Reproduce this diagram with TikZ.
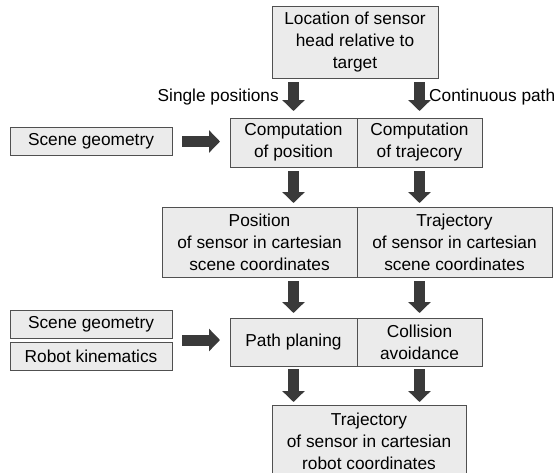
\documentclass[tikz,border=0pt]{standalone}
\usepackage{fontspec}
\setmainfont{Liberation Sans}
\usetikzlibrary{arrows.meta,calc}
\definecolor{boxfill}{HTML}{EBEBEB}
\definecolor{boxline}{HTML}{505050}
\definecolor{arrowfill}{HTML}{3A3A3A}
\begin{document}
\begin{tikzpicture}[x=1pt,y=-1pt,
  box/.style={draw=boxline, fill=boxfill, line width=0.9pt, inner sep=0pt, outer sep=0pt,
    align=center, font=\fontsize{17.3}{22}\selectfont, anchor=north west},
  lbl/.style={inner sep=0pt, font=\fontsize{17.3}{22}\selectfont},
  bigarrow/.style={draw=arrowfill, line width=11pt, -{Triangle[width=22pt,length=11pt]}}]
\useasboundingbox (0,0) rectangle (556,472);
% boxes
\node[box, minimum width=166pt, minimum height=72pt] (top) at (272,6.5) {Location of sensor\\head relative to\\target};
\node[box, minimum width=127pt, minimum height=49pt] (cpl) at (230,118) {Computation\\of position};
\node[box, minimum width=125pt, minimum height=49pt] (cpr) at (357,118) {Computation\\of trajecory};
\node[box, minimum width=195pt, minimum height=70pt] (pol) at (162,207) {Position\\of sensor in cartesian\\scene coordinates};
\node[box, minimum width=195pt, minimum height=70pt] (por) at (357,207) {Trajectory\\of sensor in cartesian\\scene coordinates};
\node[box, minimum width=127pt, minimum height=48pt] (ppl) at (230,318) {Path planing};
\node[box, minimum width=125pt, minimum height=48pt] (ppr) at (357,318) {Collision\\avoidance};
\node[box, minimum width=194pt, minimum height=72pt] (fin) at (272,405) {Trajectory\\of sensor in cartesian\\robot coordinates};
\node[box, minimum width=162pt, minimum height=28pt] (sg1) at (10,127.5) {Scene geometry};
\node[box, minimum width=162pt, minimum height=28pt] (sg2) at (10,310) {Scene geometry};
\node[box, minimum width=162pt, minimum height=28pt] (rk) at (10,342) {Robot kinematics};
% labels
\node[lbl, anchor=base east] (lsp) at (279,101) {Single positions};
\node[lbl, anchor=base west] (lcp) at (429,101) {Continuous path};
% arrows
\draw[bigarrow, shorten <=3.5pt, shorten >=7pt] (top.south -| cpl.north) -- (cpl.north);
\draw[bigarrow, shorten <=3.5pt, shorten >=7pt] (top.south -| cpr.north) -- (cpr.north);
\draw[bigarrow, shorten <=4pt, shorten >=4pt] (cpl.south) -- (cpl.south |- pol.north);
\draw[bigarrow, shorten <=4pt, shorten >=4pt] (cpr.south) -- (cpr.south |- por.north);
\draw[bigarrow, shorten <=4pt, shorten >=5pt] (ppl.north |- pol.south) -- (ppl.north);
\draw[bigarrow, shorten <=4pt, shorten >=5pt] (ppr.north |- por.south) -- (ppr.north);
\draw[bigarrow, shorten <=3pt, shorten >=3pt] (ppl.south) -- (ppl.south |- fin.north);
\draw[bigarrow, shorten <=3pt, shorten >=3pt] (ppr.south) -- (ppr.south |- fin.north);
\draw[bigarrow, shorten <=10pt, shorten >=10pt] (sg1.east) -- (sg1.east -| cpl.west);
\coordinate (lg) at ($(sg2.south east)!0.5!(rk.north east)$);
\draw[bigarrow, shorten <=10pt, shorten >=10pt] (lg) -- (lg -| ppl.west);
\end{tikzpicture}
\end{document}
